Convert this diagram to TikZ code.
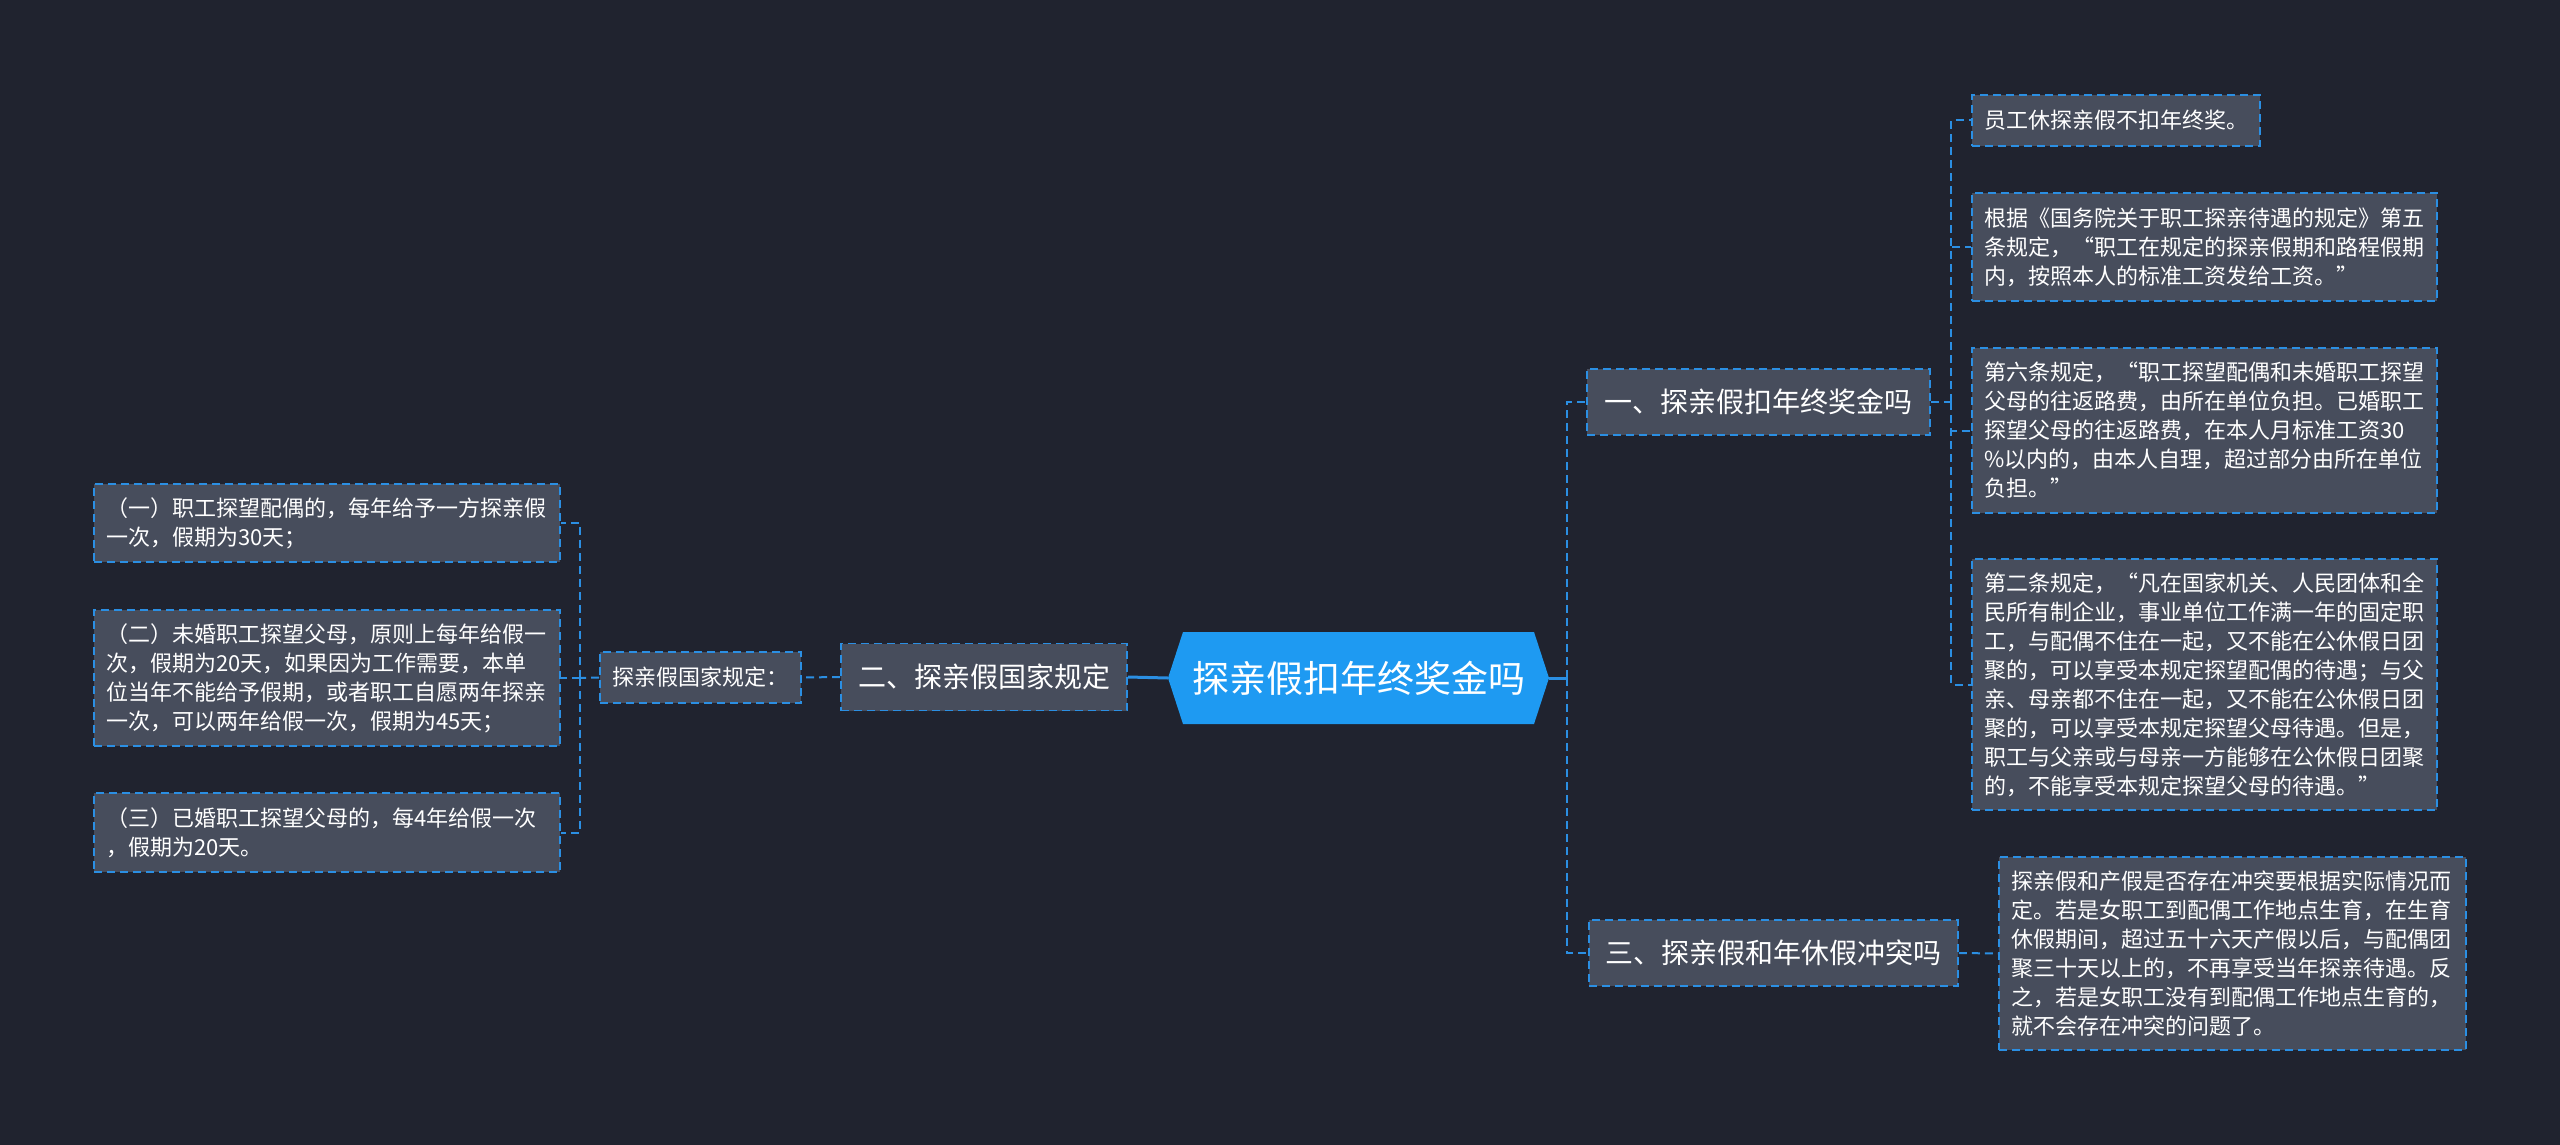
\documentclass[tikz,border=0pt]{standalone}
\usepackage{fontspec}
\setmainfont{Noto Sans CJK SC}
\definecolor{bg}{HTML}{20232F}
\definecolor{nodefill}{HTML}{474D5C}
\definecolor{bblue}{HTML}{2B8FE3}
\definecolor{cblue}{HTML}{1E9AF2}
\tikzset{
  box/.style={draw=bblue, line width=1.6pt, dash pattern=on 8pt off 5pt, fill=nodefill,
    text=white, inner xsep=12pt, inner ysep=0pt, align=left,
    font=\fontsize{22}{29}\selectfont},
  midbox/.style={box, align=center, font=\fontsize{28}{34}\selectfont},
  conn/.style={draw=bblue, line width=2pt, dash pattern=on 8pt off 5pt},
  mainconn/.style={draw=bblue, line width=3pt},
}
\begin{document}
\begin{tikzpicture}[x=1pt,y=-1pt]
\fill[bg] (0,0) rectangle (2560,1145);
\useasboundingbox (0,0) rectangle (2560,1145);
% centre
\fill[cblue] (1168,678) -- (1183,632) -- (1534,632) -- (1549,678) -- (1534,724) -- (1183,724) -- cycle;
\node[text=white, font=\fontsize{37}{44}\selectfont, minimum width=381pt, minimum height=92pt, inner sep=0pt] (c) at (1358.5,678) {探亲假扣年终奖金吗};
% level 1
\node[midbox, minimum width=343pt, minimum height=66pt] (n1) at (1758.5,402) {一、探亲假扣年终奖金吗};
\node[midbox, minimum width=286pt, minimum height=67pt] (n2) at (984,677) {二、探亲假国家规定};
\node[midbox, minimum width=369pt, minimum height=66pt] (n3) at (1773.5,953) {三、探亲假和年休假冲突吗};
\node[box, align=center, minimum width=201pt, minimum height=51pt] (n2a) at (700.5,677.5) {探亲假国家规定：};
% right leaves
\node[box, text width=264pt, minimum height=51pt] (l1) at (2116,120.5) {员工休探亲假不扣年终奖。};
\node[box, text width=441pt, minimum height=108pt] (l2) at (2204.5,247) {根据《国务院关于职工探亲待遇的规定》第五\\条规定，“职工在规定的探亲假期和路程假期\\内，按照本人的标准工资发给工资。”};
\node[box, text width=441pt, minimum height=165pt] (l3) at (2204.5,430.5) {第六条规定，“职工探望配偶和未婚职工探望\\父母的往返路费，由所在单位负担。已婚职工\\探望父母的往返路费，在本人月标准工资30\\\%以内的，由本人自理，超过部分由所在单位\\负担。”};
\node[box, text width=441pt, minimum height=251pt] (l4) at (2204.5,684.5) {第二条规定，“凡在国家机关、人民团体和全\\民所有制企业，事业单位工作满一年的固定职\\工，与配偶不住在一起，又不能在公休假日团\\聚的，可以享受本规定探望配偶的待遇；与父\\亲、母亲都不住在一起，又不能在公休假日团\\聚的，可以享受本规定探望父母待遇。但是，\\职工与父亲或与母亲一方能够在公休假日团聚\\的，不能享受本规定探望父母的待遇。”};
\node[box, text width=443pt, minimum height=193pt] (l5) at (2232.5,953.5) {探亲假和产假是否存在冲突要根据实际情况而\\定。若是女职工到配偶工作地点生育，在生育\\休假期间，超过五十六天产假以后，与配偶团\\聚三十天以上的，不再享受当年探亲待遇。反\\之，若是女职工没有到配偶工作地点生育的，\\就不会存在冲突的问题了。};
% left leaves
\node[box, text width=442pt, minimum height=78pt] (a1) at (327,523) {（一）职工探望配偶的，每年给予一方探亲假\\一次，假期为30天；};
\node[box, text width=442pt, minimum height=136pt] (a2) at (327,678) {（二）未婚职工探望父母，原则上每年给假一\\次，假期为20天，如果因为工作需要，本单\\位当年不能给予假期，或者职工自愿两年探亲\\一次，可以两年给假一次，假期为45天；};
\node[box, text width=442pt, minimum height=79pt] (a3) at (327,832.5) {（三）已婚职工探望父母的，每4年给假一次\\，假期为20天。};
% junction points
\coordinate (jc) at (1567,678);
\coordinate (j1) at (1951,402);
\coordinate (jl) at (580,678);
% connectors
\draw[mainconn] (c.east) -- (jc);
\draw[mainconn] (c.west) -- (n2.east);
\draw[conn] (jc) |- (n1.west);
\draw[conn] (jc) |- (n3.west);
\draw[conn] (n1.east) -- (j1);
\draw[conn] (j1) |- (l1.west);
\draw[conn] (j1) |- (l2.west);
\draw[conn] (j1) |- (l3.west);
\draw[conn] (j1) |- (l4.west);
\draw[conn] (n3.east) -- (l5.west);
\draw[conn] (n2.west) -- (n2a.east);
\draw[conn] (n2a.west) -- (jl);
\draw[conn] (jl) |- (a1.east);
\draw[conn] (jl) -- (a2.east);
\draw[conn] (jl) |- (a3.east);
\end{tikzpicture}
\end{document}
